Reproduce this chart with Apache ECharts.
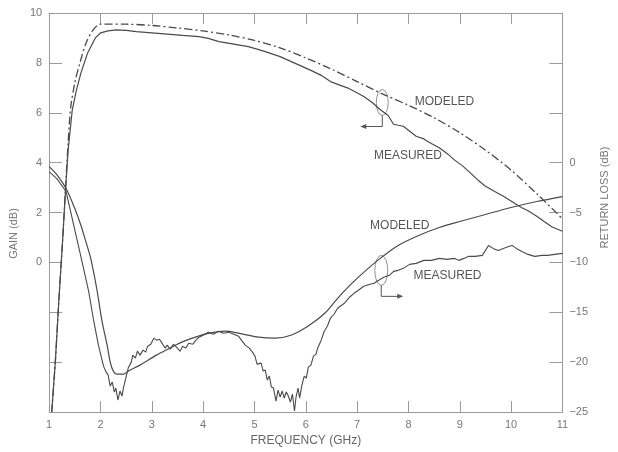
<!DOCTYPE html>
<html>
<head>
<meta charset="utf-8">
<script src="https://cdn.jsdelivr.net/npm/echarts@6/dist/echarts.min.js"></script>
<style>
html, body { margin: 0; padding: 0; background: #fff; }
#root { width: 618px; height: 452px; }
</style>
</head>
<body>
<div id="root"></div>
<script>
// gain (left axis, dB) against frequency (GHz)
var gainModFreq = [1.05, 1.12, 1.19, 1.26, 1.32, 1.37, 1.42, 1.5, 1.6, 1.72, 1.85, 2.0, 2.5, 3.0, 3.5, 4.0, 4.5, 5.0, 5.5, 6.0, 6.5, 7.0, 7.5, 8.0, 8.5, 9.0, 9.5, 10.0, 10.5, 11.0];
var gainModDb = [-6, -4, -1.5, 0.8, 3.0, 4.8, 6.2, 7.2, 8.0, 8.8, 9.3, 9.55, 9.55, 9.5, 9.4, 9.28, 9.12, 8.9, 8.6, 8.2, 7.75, 7.25, 6.75, 6.3, 5.8, 5.2, 4.5, 3.7, 2.75, 1.75];

var gainMeasFreq = [1.05, 1.12, 1.19, 1.26, 1.32, 1.37, 1.45, 1.53, 1.62, 1.75, 1.9, 2.0, 2.15, 2.3, 2.5, 2.7, 3.0, 3.3, 3.6, 3.92, 4.1, 4.31, 4.6, 4.88, 5.05, 5.21, 5.5, 5.85, 6.1, 6.3, 6.48, 6.65, 6.81, 6.95, 7.13, 7.3, 7.44, 7.6, 7.71, 7.8, 7.9, 8.0, 8.15, 8.3, 8.4, 8.6, 8.77, 8.9, 9.06, 9.2, 9.37, 9.5, 9.69, 9.85, 10.02, 10.2, 10.33, 10.5, 10.65, 10.8, 11.0];
var gainMeasDb = [-6, -4, -1.5, 0.8, 2.9, 4.5, 6.1, 6.9, 7.6, 8.4, 9.0, 9.2, 9.28, 9.32, 9.3, 9.25, 9.2, 9.15, 9.1, 9.05, 8.98, 8.85, 8.75, 8.65, 8.55, 8.45, 8.25, 7.93, 7.7, 7.5, 7.25, 7.12, 7.0, 6.85, 6.65, 6.4, 6.14, 5.9, 5.54, 5.5, 5.46, 5.3, 5.06, 4.95, 4.82, 4.6, 4.34, 4.1, 3.86, 3.6, 3.27, 3.05, 2.83, 2.65, 2.43, 2.2, 2.07, 1.85, 1.63, 1.42, 1.25];

// return loss (right axis, dB)
var rlModFreq = [1.0, 1.15, 1.33, 1.5, 1.62, 1.72, 1.81, 1.93, 2.03, 2.13, 2.19, 2.25, 2.32, 2.45, 2.54, 2.77, 3.09, 3.35, 3.54, 3.79, 4.12, 4.44, 4.69, 5.08, 5.4, 5.71, 6.04, 6.37, 6.62, 6.8, 7.0, 7.4, 7.8, 8.2, 8.6, 9.0, 9.5, 10.0, 10.5, 11.0];
var rlModDb = [-0.4, -1.2, -2.6, -4.6, -6.3, -8.0, -9.6, -12.7, -15.9, -18.3, -20.0, -20.9, -21.2, -21.2, -20.9, -20.3, -19.3, -18.6, -18.1, -17.6, -17.1, -16.9, -17.1, -17.5, -17.6, -17.3, -16.4, -15.1, -13.6, -12.6, -11.6, -9.8, -8.3, -7.3, -6.5, -5.9, -5.2, -4.5, -3.9, -3.4];

var rlMeasFreq = [1.0, 1.15, 1.33, 1.48, 1.6, 1.67, 1.77, 1.87, 1.96, 2.06, 2.1, 2.15, 2.19, 2.23, 2.27, 2.3, 2.34, 2.38, 2.42, 2.45, 2.48, 2.54, 2.6, 2.63, 2.68, 2.72, 2.77, 2.83, 2.88, 2.92, 2.98, 3.04, 3.09, 3.15, 3.2, 3.26, 3.3, 3.36, 3.42, 3.48, 3.55, 3.6, 3.66, 3.72, 3.8, 3.86, 3.92, 4.0, 4.1, 4.2, 4.3, 4.4, 4.5, 4.6, 4.69, 4.76, 4.82, 4.9, 4.96, 5.01, 5.05, 5.08, 5.13, 5.17, 5.21, 5.25, 5.29, 5.33, 5.37, 5.42, 5.46, 5.5, 5.54, 5.58, 5.62, 5.66, 5.7, 5.74, 5.78, 5.81, 5.85, 5.88, 5.92, 5.97, 6.01, 6.05, 6.1, 6.15, 6.2, 6.23, 6.3, 6.36, 6.42, 6.48, 6.55, 6.62, 6.75, 6.85, 6.94, 7.05, 7.13, 7.25, 7.33, 7.42, 7.52, 7.63, 7.71, 7.8, 7.9, 8.02, 8.15, 8.3, 8.45, 8.6, 8.75, 8.9, 8.98, 9.08, 9.17, 9.3, 9.44, 9.5, 9.56, 9.65, 9.75, 9.85, 9.95, 10.02, 10.1, 10.21, 10.33, 10.46, 10.6, 10.71, 10.85, 11.0];
var rlMeasDb = [-0.9, -1.6, -2.9, -6.3, -9.0, -10.6, -12.9, -15.9, -18.3, -20.4, -20.9, -21.3, -22.4, -22.0, -23.0, -22.6, -23.8, -22.9, -23.4, -22.5, -21.9, -20.6, -20.0, -19.3, -19.6, -18.9, -19.3, -18.8, -19.0, -18.4, -18.2, -17.6, -17.8, -17.7, -18.1, -18.6, -18.3, -18.7, -18.2, -18.5, -18.9, -18.4, -18.6, -18.1, -18.2, -17.8, -17.5, -17.3, -17.0, -17.2, -16.9, -17.1, -17.0, -17.2, -17.4, -17.9, -18.3, -18.6, -19.0, -19.4, -20.2, -20.4, -20.1, -20.9, -20.8, -21.8, -21.4, -22.5, -22.6, -23.9, -22.8, -23.5, -22.9, -23.6, -23.0, -23.4, -24.0, -23.2, -24.9, -23.5, -22.6, -23.6, -22.4, -21.4, -21.6, -20.5, -20.3, -19.4, -19.2, -18.6, -17.8, -16.9, -16.4, -15.6, -15.2, -14.6, -14.1, -13.5, -13.1, -12.7, -12.4, -12.2, -12.1, -11.8, -11.5, -11.3, -10.9, -10.8, -10.6, -10.2, -10.1, -9.8, -9.8, -9.6, -9.7, -9.6, -9.8, -9.6, -9.4, -9.4, -9.3, -8.8, -8.3, -8.6, -8.8, -8.6, -8.4, -8.3, -8.6, -8.9, -9.2, -9.4, -9.3, -9.3, -9.2, -9.1];

var gainTicks = [0, 2, 4, 6, 8, 10];
var rlTicks = [-25, -20, -15, -10, -5, 0];

function pairs(xs, ys) {
  return xs.map(function (x, i) { return [x, ys[i]]; });
}

var font = 'Liberation Sans';
var axisGray = '#9a9a9a';
var ink = '#4a4a4a';

var chart = echarts.init(document.getElementById('root'), null, { renderer: 'canvas' });

var option = {
  backgroundColor: '#fff',
  animation: false,
  grid: { left: 48, right: 52, top: 13, bottom: 37 },
  xAxis: [
    {
      type: 'value', min: 1, max: 11, interval: 1, position: 'bottom',
      name: 'FREQUENCY (GHz)', nameLocation: 'middle', nameGap: 23,
      nameTextStyle: { fontFamily: font, fontSize: 12, color: '#666' },
      axisLine: { onZero: false, lineStyle: { color: axisGray, width: 1 } },
      axisTick: { inside: true, length: 11, lineStyle: { color: axisGray } },
      axisLabel: { fontFamily: font, fontSize: 11, color: '#777', margin: 7 },
      splitLine: { show: false }
    },
    {
      type: 'value', min: 1, max: 11, interval: 1, position: 'top',
      axisLine: { onZero: false, lineStyle: { color: axisGray, width: 1 } },
      axisTick: { inside: true, length: 11, lineStyle: { color: axisGray } },
      axisLabel: { show: false },
      splitLine: { show: false }
    }
  ],
  yAxis: [
    {
      type: 'value', min: -6, max: 10, interval: 2, position: 'left',
      name: 'GAIN (dB)', nameLocation: 'middle', nameGap: 28,
      nameTextStyle: { fontFamily: font, fontSize: 11, color: '#777', padding: [0, 42, 0, 0] },
      axisLine: { show: true, onZero: false, lineStyle: { color: axisGray, width: 1 } },
      axisTick: { show: true, inside: true, length: 13, lineStyle: { color: axisGray } },
      axisLabel: {
        fontFamily: font, fontSize: 11, color: '#777', margin: 7,
        formatter: function (v) { return gainTicks.indexOf(v) >= 0 ? String(v) : ''; }
      },
      splitLine: { show: false }
    },
    {
      type: 'value', min: -25, max: 15, interval: 5, position: 'right',
      name: 'RETURN LOSS (dB)', nameLocation: 'middle', nameGap: 36, nameRotate: 90,
      nameTextStyle: { fontFamily: font, fontSize: 11, color: '#777', padding: [0, 0, 0, 30] },
      axisLine: { show: true, onZero: false, lineStyle: { color: axisGray, width: 1 } },
      axisTick: { show: true, inside: true, length: 13, lineStyle: { color: axisGray } },
      axisLabel: {
        fontFamily: font, fontSize: 11, color: '#777', margin: 7,
        formatter: function (v) { return rlTicks.indexOf(v) >= 0 ? String(v).replace('-', '\u2212') : ''; }
      },
      splitLine: { show: false }
    }
  ],
  series: [
    {
      name: 'Gain modeled', type: 'line', xAxisIndex: 0, yAxisIndex: 0,
      data: pairs(gainModFreq, gainModDb), showSymbol: false, smooth: 0.3,
      lineStyle: { color: ink, width: 1.3, type: [8, 3, 2, 3] }
    },
    {
      name: 'Gain measured', type: 'line', xAxisIndex: 0, yAxisIndex: 0,
      data: pairs(gainMeasFreq, gainMeasDb), showSymbol: false,
      lineStyle: { color: ink, width: 1.2 }
    },
    {
      name: 'Return loss modeled', type: 'line', xAxisIndex: 0, yAxisIndex: 1,
      data: pairs(rlModFreq, rlModDb), showSymbol: false, smooth: 0.3,
      lineStyle: { color: ink, width: 1.2 }
    },
    {
      name: 'Return loss measured', type: 'line', xAxisIndex: 0, yAxisIndex: 1,
      data: pairs(rlMeasFreq, rlMeasDb), showSymbol: false,
      lineStyle: { color: ink, width: 1.1 }
    }
  ]
};

chart.setOption(option);

// curve labels and the ellipse/arrow callouts, placed in data coordinates
function px(f, g) {
  return chart.convertToPixel({ xAxisIndex: 0, yAxisIndex: 0 }, [f, g]);
}

var curveLabels = [
  { text: 'MODELED', f: 8.70, g: 6.45 },
  { text: 'MEASURED', f: 7.99, g: 4.26 },
  { text: 'MODELED', f: 7.83, g: 1.47 },
  { text: 'MEASURED', f: 8.76, g: -0.52 }
];

var graphics = curveLabels.map(function (l) {
  var p = px(l.f, l.g);
  return {
    type: 'text', x: p[0], y: p[1],
    style: { text: l.text, fontFamily: font, fontSize: 12, fill: '#555', align: 'center', verticalAlign: 'middle' }
  };
});

function callout(f, g, ry, scale, dir) {
  var c = px(f, g);
  var x = c[0], y = c[1];
  var lineStyle = { stroke: '#555', lineWidth: 1, fill: null };
  var out = [];
  out.push({
    type: 'circle', x: x, y: y, scaleX: scale,
    shape: { cx: 0, cy: 0, r: ry },
    style: { stroke: '#666', lineWidth: 1, fill: null, strokeNoScale: true }
  });
  var yy = y + ry + 11;
  var xEnd = x + dir * 18;
  out.push({ type: 'polyline', shape: { points: [[x, y + ry], [x, yy], [xEnd, yy]] }, style: lineStyle });
  out.push({
    type: 'polygon',
    shape: { points: [[xEnd + dir * 4, yy], [xEnd - dir * 2, yy - 2.5], [xEnd - dir * 2, yy + 2.5]] },
    style: { fill: '#555' }
  });
  return out;
}

graphics = graphics.concat(callout(7.49, 6.41, 13, 0.46, -1), callout(7.47, -0.32, 15, 0.43, 1));

chart.setOption({ graphic: graphics });
</script>
</body>
</html>
